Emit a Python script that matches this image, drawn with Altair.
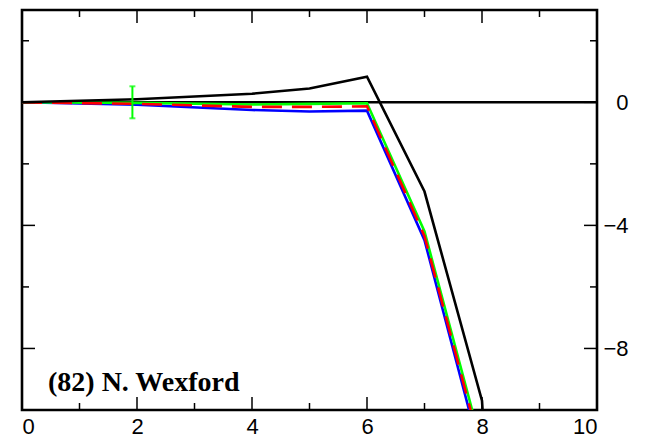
import altair as alt
import pandas as pd

# ---- data ----
x_pts = [0, 2, 4, 5, 6, 7, 8, 9]
black_vals = [0.0, 0.10, 0.28, 0.45, 0.83, -2.9, -9.7, -40.0]
blue_vals = [0.0, -0.08, -0.25, -0.30, -0.27, -4.48, -11.6, -20.0]
green_vals = [0.0, -0.02, -0.07, -0.05, -0.03, -4.2, -11.2, -20.0]
red_vals = [0.0, -0.05, -0.15, -0.15, -0.13, -4.35, -11.4, -20.0]

err_x = [1.92]
err_center = [0.0]
err_half = [0.52]

x_major = [0, 2, 4, 6, 8, 10]
x_minor = [1, 3, 5, 7, 9]
y_major = [0, -4, -8]
y_minor = [2, -2, -6]
label_text = "(82) N. Wexford"

W, H = 575, 400
XD, YD = [0, 10], [-10, 3]

xs = alt.Scale(domain=XD, nice=False, zero=False)
ys = alt.Scale(domain=YD, nice=False, zero=False)

AX = alt.Axis(orient="bottom", values=x_major, format="d", ticks=False, tickSize=0,
              domain=False, grid=False, labelFontSize=22, labelFont="Liberation Sans",
              labelColor="black", labelPadding=6, title=None)
AY = alt.Axis(orient="right", values=y_major, format="d", ticks=False, tickSize=0,
              domain=False, grid=False, labelFontSize=22, labelFont="Liberation Sans",
              labelColor="black", labelAlign="right", labelPadding=31, title=None)

def X(field):
    return alt.X(field, scale=xs, axis=AX)

def Y(field):
    return alt.Y(field, scale=ys, axis=AY)

def series(vals):
    return pd.DataFrame({"x": x_pts, "y": vals})

def line(vals, color, dash=None, width=2.6):
    kw = dict(color=color, strokeWidth=width, clip=True)
    if dash:
        kw["strokeDash"] = dash
    return alt.Chart(series(vals)).mark_line(**kw).encode(x=X("x:Q"), y=Y("y:Q"))

def xticks(vals, length, top):
    y0 = 0 if top else H
    y1 = length if top else H - length
    return alt.Chart(pd.DataFrame({"x": vals})).mark_rule(color="black", strokeWidth=1.5).encode(
        x=X("x:Q"), y=alt.value(y0), y2=alt.value(y1))

def yticks(vals, length, left):
    x0 = 0 if left else W
    x1 = length if left else W - length
    return alt.Chart(pd.DataFrame({"y": vals})).mark_rule(color="black", strokeWidth=1.5).encode(
        y=Y("y:Q"), x=alt.value(x0), x2=alt.value(x1))

zero_line = alt.Chart(pd.DataFrame({"x": [XD[0]], "x2": [XD[1]], "y": [0]})).mark_rule(
    color="black", strokeWidth=2.6).encode(x=X("x:Q"), x2="x2:Q", y=Y("y:Q"))

err_df = pd.DataFrame({"x": err_x, "lo": [c - h for c, h in zip(err_center, err_half)],
                       "hi": [c + h for c, h in zip(err_center, err_half)]})
err_rule = alt.Chart(err_df).mark_rule(color="#00ff00", strokeWidth=2).encode(
    x=X("x:Q"), y=Y("lo:Q"), y2="hi:Q")
err_cap_lo = alt.Chart(err_df).mark_tick(color="#00ff00", orient="horizontal", size=6, thickness=2).encode(
    x=X("x:Q"), y=Y("lo:Q"))
err_cap_hi = alt.Chart(err_df).mark_tick(color="#00ff00", orient="horizontal", size=6, thickness=2).encode(
    x=X("x:Q"), y=Y("hi:Q"))

label = alt.Chart(pd.DataFrame({"t": [label_text]})).mark_text(
    font="Liberation Serif", fontWeight="bold", fontSize=28, align="left", baseline="middle",
    color="black").encode(text="t:N", x=alt.value(26), y=alt.value(373))

chart = alt.layer(
    zero_line,
    line(blue_vals, "#0000ff"),
    line(green_vals, "#00ff00"),
    line(red_vals, "#ff0000", dash=[20, 10]),
    line(black_vals, "black"),
    err_rule, err_cap_lo, err_cap_hi,
    xticks(x_major, 13, False), xticks(x_minor, 7, False),
    xticks(x_major, 13, True), xticks(x_minor, 7, True),
    yticks(y_major, 13, True), yticks(y_minor, 7, True),
    yticks(y_major, 13, False), yticks(y_minor, 7, False),
    label,
).properties(
    width=W, height=H,
    background="white",
    autosize=alt.AutoSizeParams(type="none"),
    padding={"left": 14, "top": 2, "right": 60, "bottom": 30},
).configure_view(stroke="black", strokeWidth=2.6)

chart.save("out.html", embed_options={"renderer": "svg", "actions": False})
